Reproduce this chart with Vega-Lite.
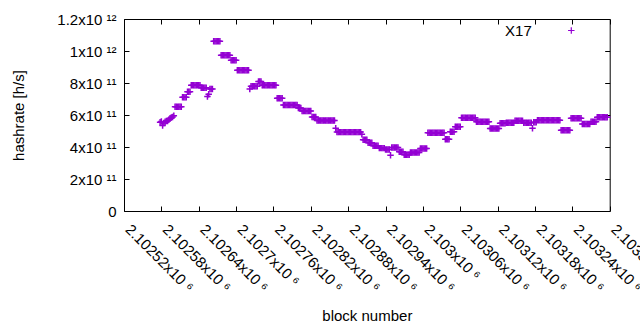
{
"$schema":"https://vega.github.io/schema/vega-lite/v6.json",
"width":485.7,"height":192,
"autosize":{"type":"none"},
"padding":{"left":124,"top":19,"right":30.3,"bottom":119},
"background":"white",
"config":{"view":{"stroke":"black","strokeWidth":1},"font":"Liberation Sans"},
"data":{"values":[
{"b":2102578,"h":5.55e11},{"b":2102580,"h":5.60e11},{"b":2102582,"h":5.35e11},{"b":2102584,"h":5.50e11},{"b":2102586,"h":5.58e11},{"b":2102588,"h":5.62e11},{"b":2102590,"h":5.62e11},{"b":2102592,"h":5.70e11},{"b":2102594,"h":5.80e11},{"b":2102596,"h":5.84e11},{"b":2102598,"h":5.88e11},{"b":2102600,"h":5.95e11},
{"b":2102602,"h":6.52e11},{"b":2102604,"h":6.52e11},{"b":2102606,"h":6.52e11},{"b":2102608,"h":6.52e11},{"b":2102610,"h":6.52e11},{"b":2102612,"h":6.52e11},
{"b":2102614,"h":7.11e11},{"b":2102616,"h":7.11e11},{"b":2102618,"h":7.11e11},{"b":2102620,"h":7.11e11},
{"b":2102622,"h":7.46e11},{"b":2102624,"h":7.46e11},{"b":2102626,"h":7.46e11},
{"b":2102628,"h":7.86e11},{"b":2102630,"h":7.86e11},{"b":2102632,"h":7.86e11},{"b":2102634,"h":7.86e11},{"b":2102636,"h":7.86e11},{"b":2102638,"h":7.86e11},{"b":2102640,"h":7.86e11},{"b":2102642,"h":7.86e11},
{"b":2102644,"h":7.71e11},{"b":2102646,"h":7.71e11},{"b":2102648,"h":7.71e11},{"b":2102650,"h":7.71e11},{"b":2102652,"h":7.71e11},
{"b":2102654,"h":7.15e11},{"b":2102656,"h":7.30e11},
{"b":2102658,"h":7.63e11},{"b":2102660,"h":7.63e11},{"b":2102662,"h":7.63e11},
{"b":2102664,"h":10.61e11},{"b":2102666,"h":10.61e11},{"b":2102668,"h":10.61e11},{"b":2102670,"h":10.61e11},{"b":2102672,"h":10.61e11},{"b":2102674,"h":10.61e11},
{"b":2102676,"h":9.73e11},{"b":2102678,"h":9.73e11},{"b":2102680,"h":9.73e11},{"b":2102682,"h":9.73e11},{"b":2102684,"h":9.73e11},{"b":2102686,"h":9.73e11},{"b":2102688,"h":9.73e11},{"b":2102690,"h":9.73e11},
{"b":2102692,"h":9.42e11},{"b":2102694,"h":9.42e11},{"b":2102696,"h":9.42e11},{"b":2102698,"h":9.42e11},{"b":2102700,"h":9.42e11},
{"b":2102702,"h":8.80e11},{"b":2102704,"h":8.80e11},{"b":2102706,"h":8.80e11},{"b":2102708,"h":8.80e11},{"b":2102710,"h":8.80e11},{"b":2102712,"h":8.80e11},{"b":2102714,"h":8.80e11},{"b":2102716,"h":8.80e11},{"b":2102718,"h":8.80e11},{"b":2102720,"h":8.80e11},
{"b":2102722,"h":7.63e11},
{"b":2102724,"h":7.80e11},{"b":2102726,"h":7.80e11},{"b":2102728,"h":7.80e11},{"b":2102730,"h":7.80e11},{"b":2102732,"h":7.80e11},{"b":2102734,"h":7.80e11},
{"b":2102736,"h":8.09e11},{"b":2102738,"h":8.09e11},{"b":2102740,"h":8.09e11},
{"b":2102742,"h":7.86e11},{"b":2102744,"h":7.86e11},{"b":2102746,"h":7.86e11},{"b":2102748,"h":7.86e11},{"b":2102750,"h":7.86e11},{"b":2102752,"h":7.86e11},{"b":2102754,"h":7.86e11},{"b":2102756,"h":7.86e11},{"b":2102758,"h":7.86e11},{"b":2102760,"h":7.86e11},{"b":2102762,"h":7.86e11},{"b":2102764,"h":7.86e11},
{"b":2102766,"h":7.05e11},{"b":2102768,"h":7.05e11},{"b":2102770,"h":7.05e11},{"b":2102772,"h":7.05e11},{"b":2102774,"h":7.05e11},
{"b":2102776,"h":6.63e11},{"b":2102778,"h":6.63e11},{"b":2102780,"h":6.63e11},{"b":2102782,"h":6.63e11},{"b":2102784,"h":6.63e11},{"b":2102786,"h":6.63e11},{"b":2102788,"h":6.63e11},{"b":2102790,"h":6.63e11},{"b":2102792,"h":6.63e11},{"b":2102794,"h":6.63e11},{"b":2102796,"h":6.63e11},{"b":2102798,"h":6.63e11},
{"b":2102800,"h":6.44e11},{"b":2102802,"h":6.44e11},{"b":2102804,"h":6.44e11},
{"b":2102806,"h":6.25e11},{"b":2102808,"h":6.25e11},{"b":2102810,"h":6.25e11},{"b":2102812,"h":6.25e11},{"b":2102814,"h":6.25e11},{"b":2102816,"h":6.25e11},{"b":2102818,"h":6.25e11},{"b":2102820,"h":6.25e11},
{"b":2102822,"h":5.87e11},{"b":2102824,"h":5.87e11},{"b":2102826,"h":5.87e11},{"b":2102828,"h":5.87e11},
{"b":2102830,"h":5.66e11},{"b":2102832,"h":5.66e11},{"b":2102834,"h":5.66e11},{"b":2102836,"h":5.66e11},{"b":2102838,"h":5.66e11},{"b":2102840,"h":5.66e11},{"b":2102842,"h":5.66e11},{"b":2102844,"h":5.66e11},{"b":2102846,"h":5.66e11},{"b":2102848,"h":5.66e11},{"b":2102850,"h":5.66e11},{"b":2102852,"h":5.66e11},{"b":2102854,"h":5.66e11},{"b":2102856,"h":5.66e11},{"b":2102858,"h":5.66e11},
{"b":2102860,"h":5.17e11},
{"b":2102862,"h":4.93e11},{"b":2102864,"h":4.93e11},{"b":2102866,"h":4.93e11},{"b":2102868,"h":4.93e11},{"b":2102870,"h":4.93e11},{"b":2102872,"h":4.93e11},{"b":2102874,"h":4.93e11},{"b":2102876,"h":4.93e11},{"b":2102878,"h":4.93e11},{"b":2102880,"h":4.93e11},{"b":2102882,"h":4.93e11},{"b":2102884,"h":4.93e11},{"b":2102886,"h":4.93e11},{"b":2102888,"h":4.93e11},{"b":2102890,"h":4.93e11},{"b":2102892,"h":4.93e11},{"b":2102894,"h":4.93e11},{"b":2102896,"h":4.93e11},{"b":2102898,"h":4.93e11},{"b":2102900,"h":4.93e11},
{"b":2102902,"h":4.80e11},
{"b":2102904,"h":4.45e11},{"b":2102906,"h":4.45e11},{"b":2102908,"h":4.45e11},{"b":2102910,"h":4.45e11},
{"b":2102912,"h":4.26e11},{"b":2102914,"h":4.26e11},{"b":2102916,"h":4.26e11},{"b":2102918,"h":4.26e11},
{"b":2102920,"h":4.08e11},{"b":2102922,"h":4.08e11},{"b":2102924,"h":4.08e11},{"b":2102926,"h":4.08e11},{"b":2102928,"h":4.08e11},
{"b":2102930,"h":3.93e11},{"b":2102932,"h":3.93e11},{"b":2102934,"h":3.93e11},{"b":2102936,"h":3.93e11},{"b":2102938,"h":3.93e11},
{"b":2102940,"h":3.85e11},{"b":2102942,"h":3.85e11},{"b":2102944,"h":3.85e11},{"b":2102946,"h":3.85e11},
{"b":2102948,"h":3.49e11},
{"b":2102950,"h":3.97e11},{"b":2102952,"h":3.97e11},{"b":2102954,"h":3.97e11},{"b":2102956,"h":3.97e11},{"b":2102958,"h":3.97e11},{"b":2102960,"h":3.97e11},
{"b":2102962,"h":3.70e11},{"b":2102964,"h":3.70e11},{"b":2102966,"h":3.70e11},{"b":2102968,"h":3.70e11},
{"b":2102970,"h":3.52e11},{"b":2102972,"h":3.52e11},{"b":2102974,"h":3.52e11},{"b":2102976,"h":3.52e11},{"b":2102978,"h":3.52e11},
{"b":2102980,"h":3.66e11},{"b":2102982,"h":3.66e11},{"b":2102984,"h":3.66e11},{"b":2102986,"h":3.66e11},{"b":2102988,"h":3.66e11},{"b":2102990,"h":3.66e11},{"b":2102992,"h":3.66e11},{"b":2102994,"h":3.66e11},
{"b":2102996,"h":3.91e11},{"b":2102998,"h":3.91e11},{"b":2103000,"h":3.91e11},{"b":2103002,"h":3.91e11},{"b":2103004,"h":3.91e11},{"b":2103006,"h":3.91e11},
{"b":2103008,"h":4.89e11},{"b":2103010,"h":4.89e11},{"b":2103012,"h":4.89e11},{"b":2103014,"h":4.89e11},{"b":2103016,"h":4.89e11},{"b":2103018,"h":4.89e11},{"b":2103020,"h":4.89e11},{"b":2103022,"h":4.89e11},{"b":2103024,"h":4.89e11},{"b":2103026,"h":4.89e11},{"b":2103028,"h":4.89e11},{"b":2103030,"h":4.89e11},{"b":2103032,"h":4.89e11},{"b":2103034,"h":4.89e11},
{"b":2103036,"h":4.48e11},{"b":2103038,"h":4.48e11},{"b":2103040,"h":4.48e11},{"b":2103042,"h":4.48e11},
{"b":2103044,"h":4.95e11},{"b":2103046,"h":4.95e11},{"b":2103048,"h":4.95e11},{"b":2103050,"h":4.95e11},
{"b":2103052,"h":5.27e11},{"b":2103054,"h":5.27e11},{"b":2103056,"h":5.27e11},{"b":2103058,"h":5.27e11},{"b":2103060,"h":5.27e11},
{"b":2103062,"h":5.83e11},{"b":2103064,"h":5.83e11},{"b":2103066,"h":5.83e11},{"b":2103068,"h":5.83e11},{"b":2103070,"h":5.83e11},{"b":2103072,"h":5.83e11},{"b":2103074,"h":5.83e11},{"b":2103076,"h":5.83e11},{"b":2103078,"h":5.83e11},{"b":2103080,"h":5.83e11},{"b":2103082,"h":5.83e11},{"b":2103084,"h":5.83e11},
{"b":2103086,"h":5.58e11},{"b":2103088,"h":5.58e11},{"b":2103090,"h":5.58e11},{"b":2103092,"h":5.58e11},{"b":2103094,"h":5.58e11},{"b":2103096,"h":5.58e11},{"b":2103098,"h":5.58e11},{"b":2103100,"h":5.58e11},{"b":2103102,"h":5.58e11},{"b":2103104,"h":5.58e11},{"b":2103106,"h":5.58e11},
{"b":2103108,"h":5.15e11},{"b":2103110,"h":5.15e11},{"b":2103112,"h":5.15e11},{"b":2103114,"h":5.15e11},{"b":2103116,"h":5.15e11},{"b":2103118,"h":5.15e11},{"b":2103120,"h":5.15e11},{"b":2103122,"h":5.15e11},
{"b":2103124,"h":5.48e11},{"b":2103126,"h":5.48e11},{"b":2103128,"h":5.48e11},{"b":2103130,"h":5.48e11},{"b":2103132,"h":5.48e11},
{"b":2103134,"h":5.52e11},{"b":2103136,"h":5.52e11},{"b":2103138,"h":5.52e11},{"b":2103140,"h":5.52e11},{"b":2103142,"h":5.52e11},{"b":2103144,"h":5.52e11},{"b":2103146,"h":5.52e11},
{"b":2103148,"h":5.64e11},{"b":2103150,"h":5.64e11},{"b":2103152,"h":5.64e11},{"b":2103154,"h":5.64e11},{"b":2103156,"h":5.64e11},{"b":2103158,"h":5.64e11},{"b":2103160,"h":5.64e11},
{"b":2103162,"h":5.52e11},{"b":2103164,"h":5.52e11},{"b":2103166,"h":5.52e11},{"b":2103168,"h":5.52e11},{"b":2103170,"h":5.52e11},{"b":2103172,"h":5.52e11},{"b":2103174,"h":5.52e11},
{"b":2103176,"h":5.17e11},
{"b":2103178,"h":5.55e11},{"b":2103180,"h":5.55e11},{"b":2103182,"h":5.55e11},
{"b":2103184,"h":5.67e11},{"b":2103186,"h":5.67e11},{"b":2103188,"h":5.67e11},{"b":2103190,"h":5.67e11},{"b":2103192,"h":5.67e11},{"b":2103194,"h":5.67e11},{"b":2103196,"h":5.67e11},{"b":2103198,"h":5.67e11},{"b":2103200,"h":5.67e11},{"b":2103202,"h":5.67e11},{"b":2103204,"h":5.67e11},{"b":2103206,"h":5.67e11},{"b":2103208,"h":5.67e11},{"b":2103210,"h":5.67e11},{"b":2103212,"h":5.67e11},{"b":2103214,"h":5.67e11},{"b":2103216,"h":5.67e11},{"b":2103218,"h":5.67e11},{"b":2103220,"h":5.67e11},
{"b":2103222,"h":5.04e11},{"b":2103224,"h":5.04e11},{"b":2103226,"h":5.04e11},{"b":2103228,"h":5.04e11},{"b":2103230,"h":5.04e11},{"b":2103232,"h":5.04e11},{"b":2103234,"h":5.04e11},{"b":2103236,"h":5.04e11},
{"b":2103238,"h":5.79e11},{"b":2103240,"h":5.79e11},{"b":2103242,"h":5.79e11},{"b":2103244,"h":5.79e11},{"b":2103246,"h":5.79e11},{"b":2103248,"h":5.79e11},{"b":2103250,"h":5.79e11},{"b":2103252,"h":5.79e11},{"b":2103254,"h":5.79e11},
{"b":2103256,"h":5.44e11},{"b":2103258,"h":5.44e11},{"b":2103260,"h":5.44e11},{"b":2103262,"h":5.44e11},{"b":2103264,"h":5.44e11},{"b":2103266,"h":5.44e11},{"b":2103268,"h":5.44e11},
{"b":2103270,"h":5.58e11},{"b":2103272,"h":5.58e11},{"b":2103274,"h":5.58e11},{"b":2103276,"h":5.58e11},{"b":2103278,"h":5.58e11},
{"b":2103280,"h":5.86e11},{"b":2103282,"h":5.86e11},{"b":2103284,"h":5.86e11},{"b":2103286,"h":5.86e11},{"b":2103288,"h":5.86e11},{"b":2103290,"h":5.86e11},{"b":2103292,"h":5.86e11},{"b":2103294,"h":5.86e11},{"b":2103296,"h":5.86e11}
]},
"layer":[
{"mark":{"type":"point","shape":"M-1,0L1,0M0,-1L0,1","size":42,"filled":false,"strokeWidth":1.5,"opacity":1},
"encoding":{
"x":{"field":"b","type":"quantitative","scale":{"domain":[2102520,2103300],"nice":false,"zero":false},
"axis":{"orient":"bottom","values":[2102520,2102580,2102640,2102700,2102760,2102820,2102880,2102940,2103000,2103060,2103120,2103180,2103240,2103300],
"labelExpr":"format(datum.value/1e6,'.6~g') + 'x10 ⁶'","labelAngle":45,"labelAlign":"left","labelBaseline":"alphabetic","labelPadding":24,"labelOverlap":false,"labelFlush":false,"labelBound":false,"labelLimit":300,
"tickSize":-5,"tickColor":"black","domain":false,"grid":false,"labelFontSize":15,"labelColor":"black",
"title":"block number","titleFontSize":15,"titleFontWeight":"normal","titleColor":"black","titleY":104,"titleBaseline":"middle"}},
"y":{"field":"h","type":"quantitative","scale":{"domain":[0,1.2e12],"nice":false},
"axis":{"orient":"left","values":[0,2e11,4e11,6e11,8e11,1e12,1.2e12],
"labelExpr":"datum.value == 0 ? '0\u00a0' : (datum.value >= 1e12 ? format(datum.value/1e12,'.2~g') + 'x10 ¹²' : format(datum.value/1e11,'.2~g') + 'x10 ¹¹')",
"labelPadding":13,"labelBaseline":"middle","labelFontSize":15,"labelColor":"black","tickSize":-5,"tickColor":"black","domain":false,"grid":false,
"title":"hashrate [h/s]","titleFontSize":15,"titleFontWeight":"normal","titleColor":"black","titleX":-106,"titleBaseline":"middle"}},
"color":{"datum":"X17","type":"nominal","scale":{"range":["#9400d3"]},
"legend":{"orient":"none","legendX":439.8,"legendY":4,"title":null,"symbolType":"M-1,0L1,0M0,-1L0,1","symbolSize":42,"symbolStrokeWidth":1.2,"symbolStrokeColor":"#9400d3","symbolFillColor":"transparent","labelFontSize":15,"labelColor":"black","labelAlign":"right","labelOffset":-47,"padding":0}}
}},
{"mark":{"type":"point","opacity":0},
"encoding":{
"x":{"field":"b","type":"quantitative","axis":{"orient":"top","values":[2102520,2102580,2102640,2102700,2102760,2102820,2102880,2102940,2103000,2103060,2103120,2103180,2103240,2103300],"labels":false,"tickSize":-5,"tickColor":"black","domain":false,"grid":false,"title":null}},
"y":{"field":"h","type":"quantitative","axis":{"orient":"right","values":[0,2e11,4e11,6e11,8e11,1e12,1.2e12],"labels":false,"tickSize":-5,"tickColor":"black","domain":false,"grid":false,"title":null}}
}}
],
"resolve":{"axis":{"x":"independent","y":"independent"}}
}
